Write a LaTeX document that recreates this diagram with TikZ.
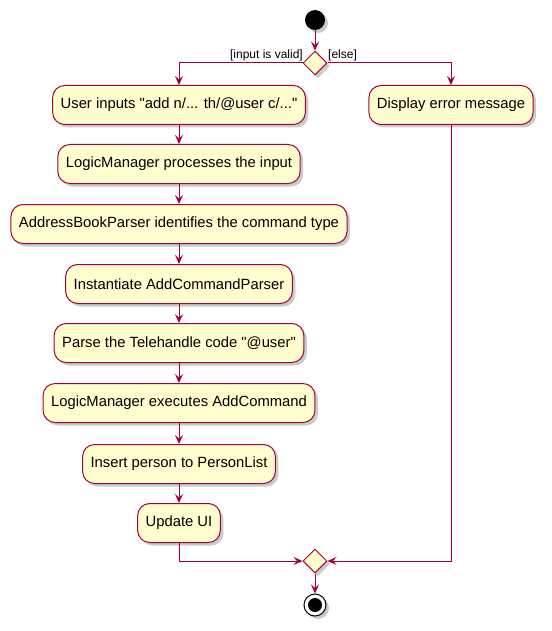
\documentclass[tikz,border=0pt]{standalone}
\usepackage{fontspec}
\setmainfont{Liberation Sans}
\usetikzlibrary{arrows.meta,shadows,shapes.geometric}
\definecolor{pborder}{HTML}{A80036}
\definecolor{pfill}{HTML}{FEFECE}
\tikzset{
  act/.style={draw=pborder, fill=pfill, line width=1pt, rounded corners=12pt,
    minimum height=39pt, inner xsep=8pt, font=\fontsize{14.8}{17}\selectfont,
    drop shadow={shadow xshift=3pt, shadow yshift=-3pt, fill=black!35, opacity=0.6}},
  dec/.style={draw=pborder, fill=pfill, line width=1pt, diamond, minimum width=24pt, minimum height=24pt, inner sep=0pt,
    drop shadow={shadow xshift=3pt, shadow yshift=-3pt, fill=black!35, opacity=0.6}},
  flow/.style={draw=pborder, line width=1pt, -{Stealth[length=9pt,width=8pt,inset=3.5pt]}},
  lbl/.style={font=\fontsize{12}{14}\selectfont, inner sep=1pt}
}
\begin{document}
\begin{tikzpicture}[x=1pt,y=-1pt]
\useasboundingbox (0,0) rectangle (551,631);
\node[circle, fill=black, minimum size=20pt, inner sep=0pt,
  drop shadow={shadow xshift=3pt, shadow yshift=-3pt, fill=black!35, opacity=0.6}] (start) at (315,20) {};
\node[dec] (d1) at (315,63) {};
\node[act] (a1) at (179,105) {User inputs \textquotedbl add n/... th/@user c/...\textquotedbl};
\node[act] (e1) at (451,105) {Display error message};
\node[act] (a2) at (179,164) {LogicManager processes the input};
\node[act] (a3) at (179,224) {AddressBookParser identifies the command type};
\node[act] (a4) at (179,284) {Instantiate AddCommandParser};
\node[act] (a5) at (179,343) {Parse the Telehandle code \textquotedbl @user\textquotedbl};
\node[act] (a6) at (179,403) {LogicManager executes AddCommand};
\node[act] (a7) at (179,464) {Insert person to PersonList};
\node[act] (a8) at (179,523) {Update UI};
\node[dec] (d2) at (315,561) {};
\node[circle, draw=black, line width=1pt, fill=white, minimum size=22pt, inner sep=0pt,
  drop shadow={shadow xshift=3pt, shadow yshift=-3pt, fill=black!35, opacity=0.6}] (stop) at (315,605) {};
\node[circle, fill=black, minimum size=14pt, inner sep=0pt] (stopin) at (stop) {};
\draw[flow] (start) -- (d1);
\draw[flow] (d1.west) -| (a1.north);
\draw[flow] (d1.east) -| (e1.north);
\node[lbl, anchor=south east] (l1) at (304,62) {[input is valid]};
\node[lbl, anchor=south west] (l2) at (327,62) {[else]};
\draw[flow] (a1) -- (a2);
\draw[flow] (a2) -- (a3);
\draw[flow] (a3) -- (a4);
\draw[flow] (a4) -- (a5);
\draw[flow] (a5) -- (a6);
\draw[flow] (a6) -- (a7);
\draw[flow] (a7) -- (a8);
\draw[flow] (a8.south) |- (d2.west);
\draw[flow] (e1.south) |- (d2.east);
\draw[flow] (d2) -- (stop);
\end{tikzpicture}
\end{document}
